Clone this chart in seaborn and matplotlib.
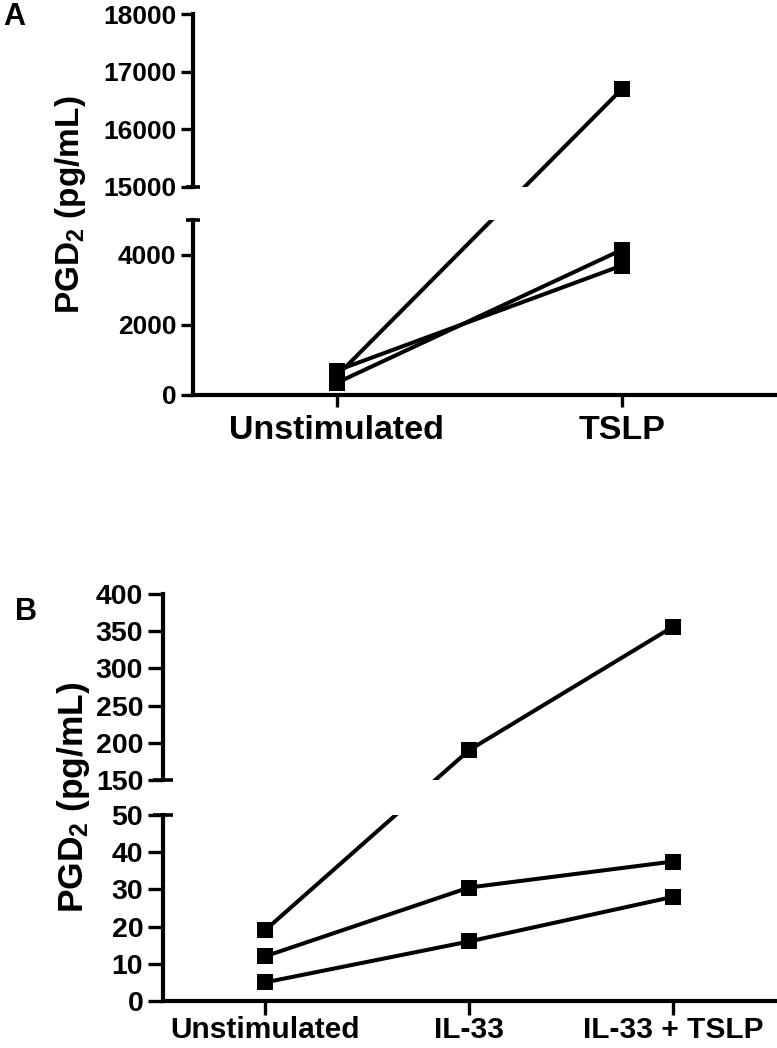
import matplotlib
matplotlib.use("Agg")
import matplotlib.pyplot as plt
import numpy as np
import pandas as pd
import seaborn as sns

# Panel A: PGD2 per donor, unstimulated vs TSLP
a_groups = ["Unstimulated", "TSLP"]
a_donor1 = [700, 3700]
a_donor2 = [350, 4150]
a_donor3 = [550, 16700]
a_yticks = [0, 2000, 4000, 15000, 16000, 17000, 18000]

# Panel B: PGD2 per donor, unstimulated / IL-33 / IL-33 + TSLP
b_groups = ["Unstimulated", "IL-33", "IL-33 + TSLP"]
b_donor1 = [19, 190, 356]
b_donor2 = [12, 30.5, 37.5]
b_donor3 = [5, 16, 28]
b_yticks = [0, 10, 20, 30, 40, 50, 150, 200, 250, 300, 350, 400]

FIG_W, FIG_H = 777, 1048

sns.set_style("ticks")
plt.rcParams["font.family"] = ["Liberation Sans", "DejaVu Sans"]
plt.rcParams["font.weight"] = "bold"
plt.rcParams["mathtext.fontset"] = "custom"
plt.rcParams["mathtext.rm"] = "Liberation Sans:bold"
plt.rcParams["mathtext.bf"] = "Liberation Sans:bold"
plt.rcParams["mathtext.it"] = "Liberation Sans:bold:italic"
plt.rcParams["mathtext.default"] = "rm"
for key in ["text.color", "axes.labelcolor", "xtick.color", "ytick.color",
            "axes.edgecolor", "xtick.labelcolor", "ytick.labelcolor"]:
    plt.rcParams[key] = "black"


def to_long(groups, donors):
    rows = []
    for d, vals in enumerate(donors):
        for i, v in enumerate(vals):
            rows.append({"donor": d, "pos": i, "value": v})
    return pd.DataFrame(rows)


def break_scale(lo_top, hi_bot, hi_top, lo_px, gap_px, hi_px):
    """piecewise linear y scale: lower part, squeezed gap, upper part"""
    k_lo = lo_px / lo_top
    k_gap = gap_px / (hi_bot - lo_top)
    k_hi = hi_px / (hi_top - hi_bot)

    def fwd(y):
        y = np.asarray(y, dtype=float)
        return np.where(
            y <= lo_top,
            y * k_lo,
            np.where(y >= hi_bot,
                     lo_px + gap_px + (y - hi_bot) * k_hi,
                     lo_px + (y - lo_top) * k_gap),
        )

    def inv(u):
        u = np.asarray(u, dtype=float)
        return np.where(
            u <= lo_px,
            u / k_lo,
            np.where(u >= lo_px + gap_px,
                     hi_bot + (u - lo_px - gap_px) / k_hi,
                     lo_top + (u - lo_px) / k_gap),
        )

    return fwd, inv


def draw_panel(fig, rect_px, groups, donors, yticks, brk, seg_px, cap_px,
               xlim, ytick_len, xtick_len, ytick_size, xtick_size, ylab_size,
               ylab_x, xpad):
    left, top, right, bottom = rect_px
    ax = fig.add_axes([left / FIG_W, 1 - bottom / FIG_H,
                       (right - left) / FIG_W, (bottom - top) / FIG_H])
    lo_top, hi_bot, hi_top = brk
    fwd, inv = break_scale(lo_top, hi_bot, hi_top, *seg_px)
    ax.set_yscale("function", functions=(fwd, inv))

    df = to_long(groups, donors)
    sns.lineplot(data=df, x="pos", y="value", units="donor", estimator=None,
                 color="black", linewidth=2.9, marker="s", markersize=11,
                 markeredgewidth=0, ax=ax, zorder=2)

    # blank the lines inside the axis break
    ax.axhspan(lo_top, hi_bot, color="white", zorder=2.5, lw=0)

    ax.set_ylim(0, hi_top)
    ax.set_xlim(*xlim)
    ax.set_xticks(range(len(groups)))
    ax.set_xticklabels(groups, fontsize=xtick_size, fontweight="bold")
    ax.set_yticks(yticks)
    ax.set_yticklabels([str(t) for t in yticks], fontsize=ytick_size,
                       fontweight="bold")
    ax.minorticks_off()
    ax.set_xlabel("")
    ax.set_ylabel("PGD$_2$ (pg/mL)", fontsize=ylab_size, fontweight="bold")
    ax.yaxis.set_label_coords(ylab_x, 0.5)

    for s in ["top", "right", "left"]:
        ax.spines[s].set_visible(False)
    ax.spines["bottom"].set_linewidth(3)
    ax.tick_params(axis="y", length=ytick_len, width=2.4, pad=3.5)
    ax.tick_params(axis="x", length=xtick_len, width=2.4, pad=xpad)

    # broken left spine with small caps
    ytr = ax.get_yaxis_transform()
    cap = cap_px / (right - left)
    for y0, y1 in [(0, lo_top), (hi_bot, hi_top)]:
        ax.plot([0, 0], [y0, y1], transform=ytr, color="black", lw=3,
                clip_on=False, zorder=4, solid_capstyle="projecting")
    for yb in [lo_top, hi_bot]:
        ax.plot([-cap, cap], [yb, yb], transform=ytr, color="black", lw=2.6,
                clip_on=False, zorder=4, solid_capstyle="butt")
    return ax


fig = plt.figure(figsize=(FIG_W / 100, FIG_H / 100), dpi=100)

draw_panel(fig, (193, 14, 775, 395), a_groups,
           [a_donor1, a_donor2, a_donor3], a_yticks,
           (5000, 15000, 18000), (175, 33, 173), 7, (-0.505, 1.537),
           ytick_len=8.6, xtick_len=8.6, ytick_size=19, xtick_size=24.5,
           ylab_size=24, ylab_x=-0.18, xpad=6)

draw_panel(fig, (163, 594, 775, 1001), b_groups,
           [b_donor1, b_donor2, b_donor3], b_yticks,
           (50, 150, 400), (186, 35, 186), 10, (-0.5, 2.5),
           ytick_len=10.8, xtick_len=10, ytick_size=20.5, xtick_size=21.5,
           ylab_size=25.5, ylab_x=-0.116, xpad=1)

fig.text(3 / FIG_W, 1 - 2 / FIG_H, "A", ha="left", va="top", fontsize=22,
         fontweight="bold")
fig.text(15 / FIG_W, 1 - 597 / FIG_H, "B", ha="left", va="top", fontsize=22,
         fontweight="bold")

fig.savefig("out.png", dpi=100)
